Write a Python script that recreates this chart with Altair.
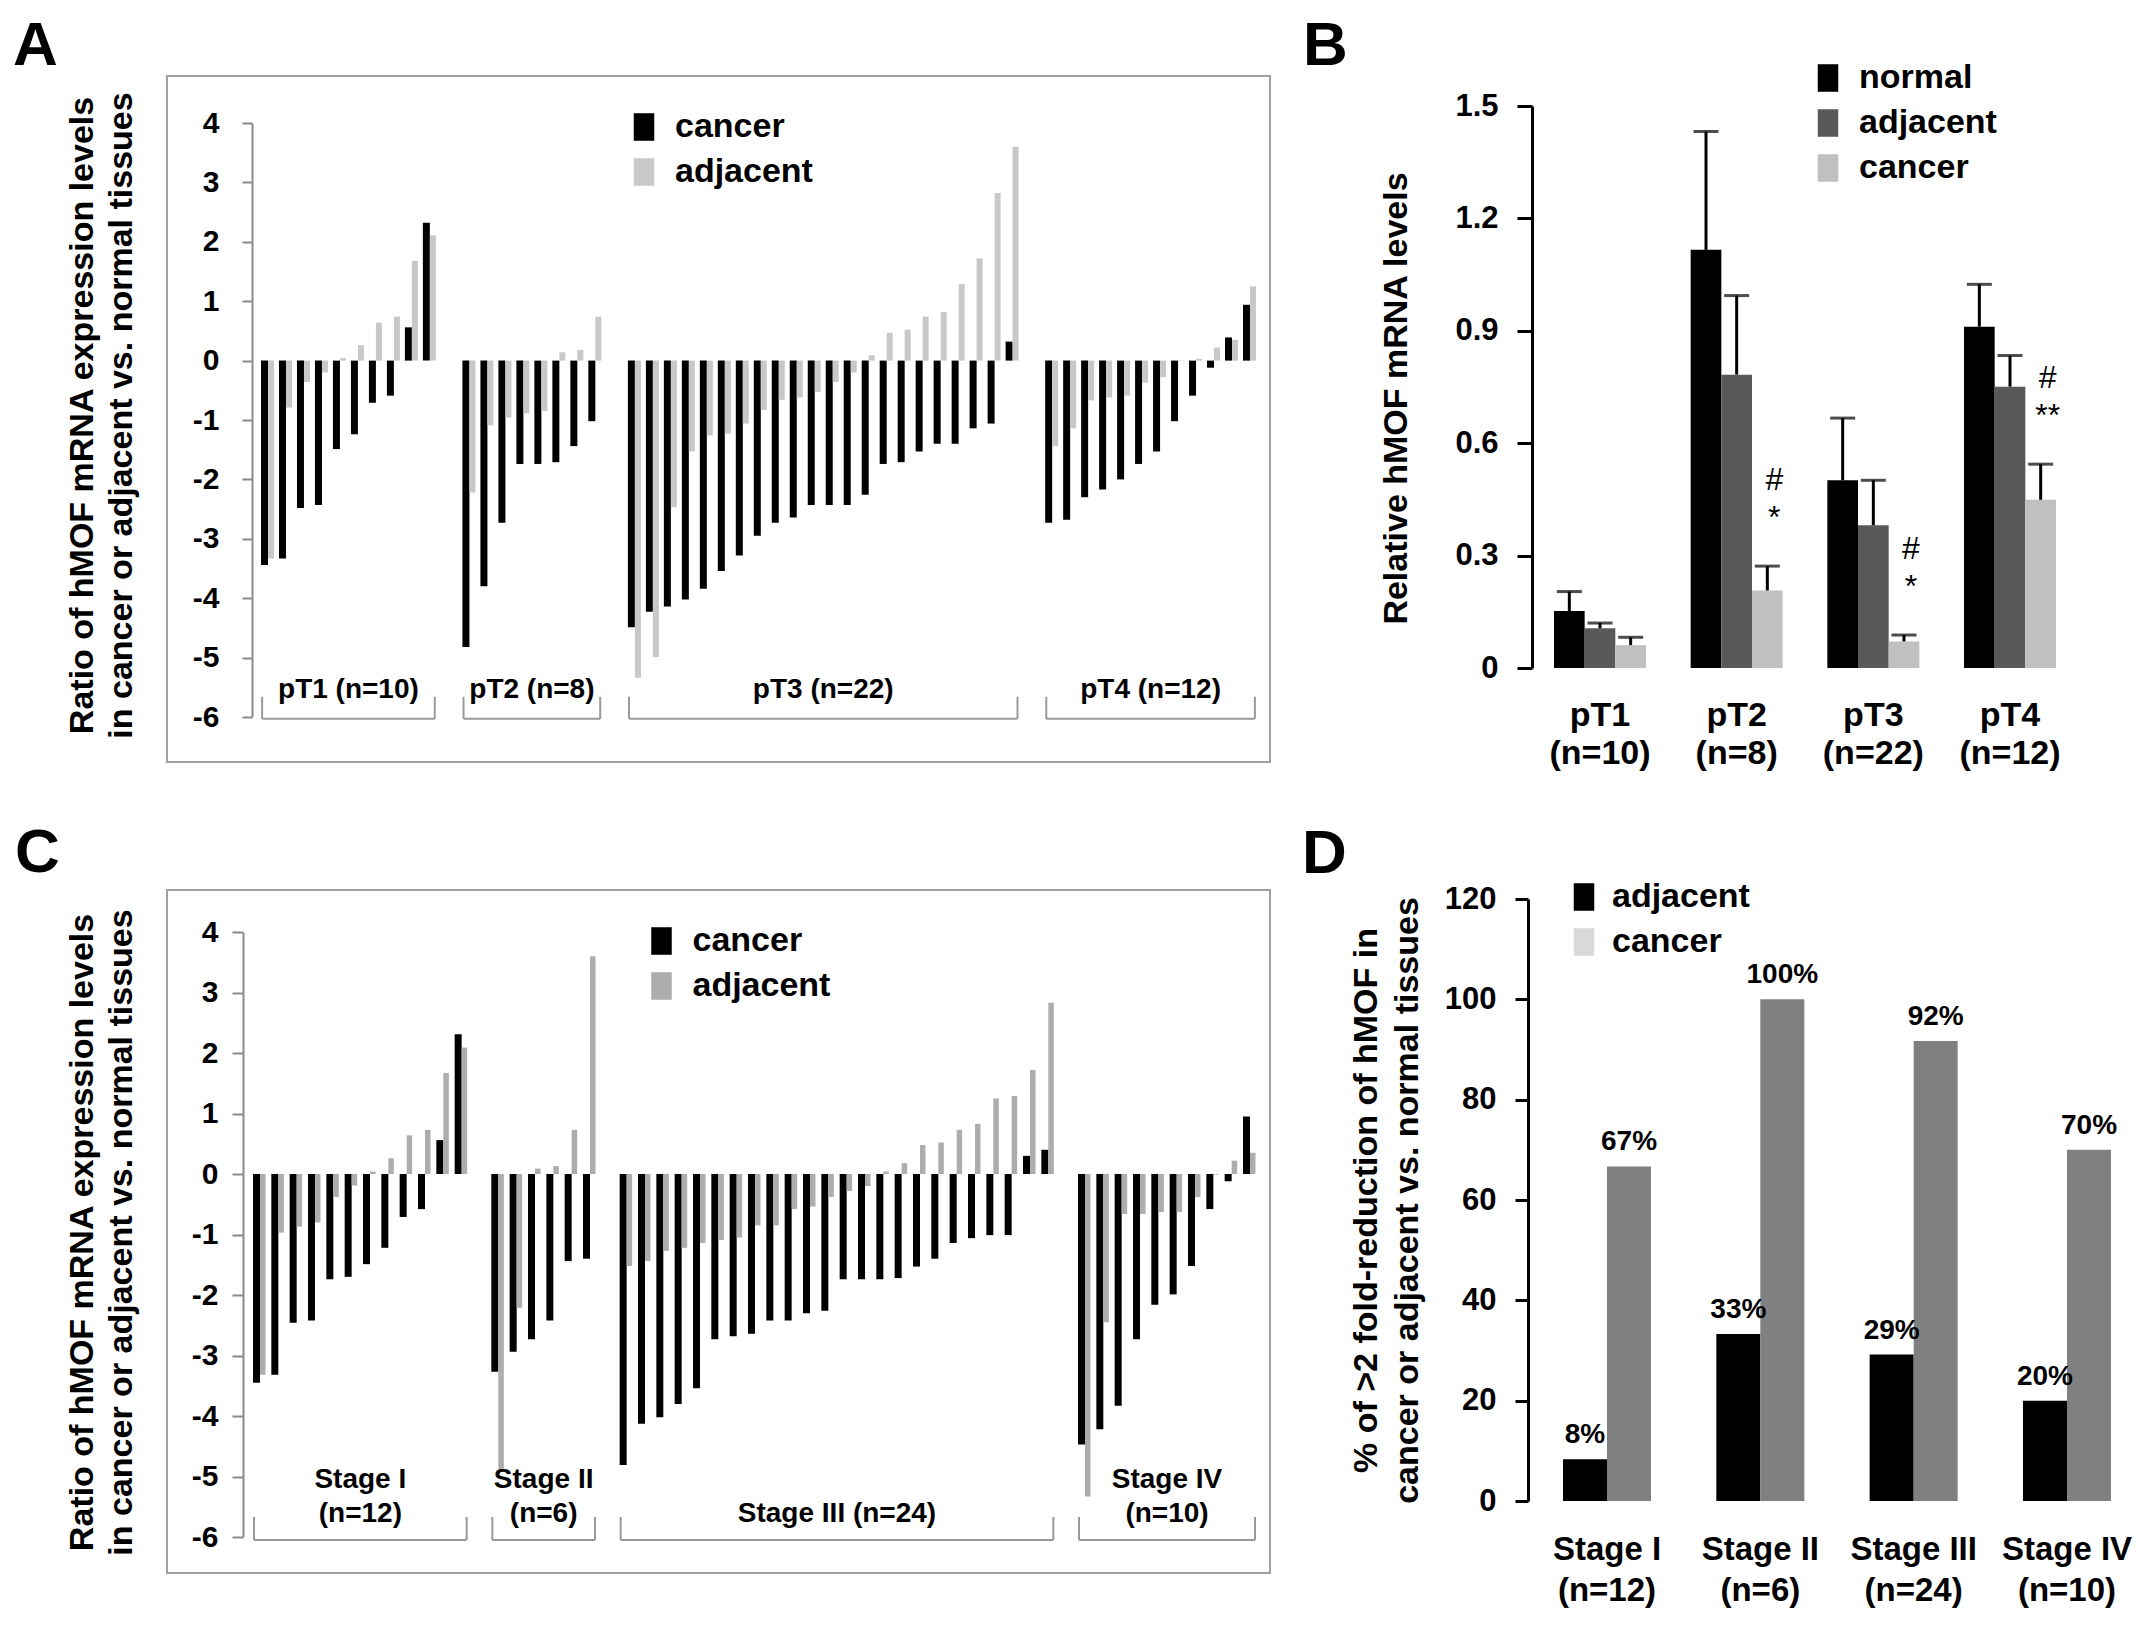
import altair as alt
import pandas as pd

# ---------------- values ----------------
# Panel A: ratio of hMOF mRNA in cancer / adjacent vs normal tissue, grouped by pT stage
A_groups = ["pT1 (n=10)", "pT2 (n=8)", "pT3 (n=22)", "pT4 (n=12)"]
A_pT1_cancer = [-3.44, -3.33, -2.48, -2.43, -1.49, -1.24, -0.71, -0.59, 0.56, 2.32]
A_pT1_adjacent = [-3.33, -0.79, -0.36, -0.20, 0.04, 0.26, 0.64, 0.74, 1.68, 2.11]
A_pT2_cancer = [-4.82, -3.80, -2.73, -1.74, -1.74, -1.71, -1.44, -1.02]
A_pT2_adjacent = [-2.22, -1.09, -0.96, -0.89, -0.85, 0.14, 0.18, 0.74]
A_pT3_cancer = [-4.49, -4.23, -4.14, -4.02, -3.84, -3.54, -3.28, -2.95, -2.73, -2.64, -2.43,
                -2.43, -2.43, -2.26, -1.74, -1.71, -1.53, -1.40, -1.40, -1.14, -1.06, 0.32]
A_pT3_adjacent = [-5.34, -4.99, -2.47, -1.53, -1.26, -1.23, -1.06, -0.83, -0.66, -0.62, -0.53,
                  -0.36, -0.20, 0.09, 0.47, 0.52, 0.74, 0.82, 1.29, 1.72, 2.82, 3.60]
A_pT4_cancer = [-2.73, -2.68, -2.30, -2.17, -2.00, -1.74, -1.53, -1.02, -0.59, -0.12, 0.39, 0.94]
A_pT4_adjacent = [-1.44, -1.14, -0.67, -0.62, -0.59, -0.37, -0.28, -0.01, 0.03, 0.22, 0.35, 1.25]

# Panel C: same ratios grouped by clinical stage
C_groups = ["Stage I\n(n=12)", "Stage II\n(n=6)", "Stage III (n=24)", "Stage IV\n(n=10)"]
C_I_cancer = [-3.45, -3.32, -2.46, -2.42, -1.74, -1.70, -1.49, -1.22, -0.71, -0.58, 0.56, 2.31]
C_I_adjacent = [-3.32, -0.97, -0.87, -0.80, -0.38, -0.19, 0.04, 0.26, 0.64, 0.73, 1.67, 2.09]
C_II_cancer = [-3.27, -2.94, -2.73, -2.42, -1.44, -1.40]
C_II_adjacent = [-4.92, -2.21, 0.09, 0.13, 0.73, 3.60]
C_III_cancer = [-4.81, -4.13, -4.02, -3.80, -3.54, -2.73, -2.68, -2.64, -2.42, -2.42, -2.30, -2.26,
                -1.74, -1.74, -1.74, -1.72, -1.53, -1.40, -1.14, -1.06, -1.01, -1.01, 0.30, 0.40]
C_III_adjacent = [-1.52, -1.44, -1.27, -1.22, -1.14, -1.09, -1.05, -0.85, -0.85, -0.58, -0.54, -0.38,
                  -0.28, -0.20, 0.04, 0.18, 0.48, 0.52, 0.73, 0.83, 1.25, 1.29, 1.72, 2.83]
C_IV_cancer = [-4.47, -4.22, -3.83, -2.73, -2.16, -1.99, -1.52, -0.58, -0.12, 0.95]
C_IV_adjacent = [-5.33, -2.45, -0.66, -0.66, -0.63, -0.63, -0.38, -0.01, 0.22, 0.35]

# Panel B: relative hMOF mRNA levels (mean and upper error)
B_groups = ["pT1", "pT2", "pT3", "pT4"]
B_n = [10, 8, 22, 12]
B_series = ["normal", "adjacent", "cancer"]
B_normal = [0.152, 1.116, 0.501, 0.911]
B_normal_err = [0.052, 0.316, 0.166, 0.113]
B_adjacent = [0.106, 0.783, 0.381, 0.751]
B_adjacent_err = [0.014, 0.211, 0.120, 0.083]
B_cancer = [0.061, 0.207, 0.071, 0.449]
B_cancer_err = [0.021, 0.065, 0.017, 0.095]
B_sig = ["", "#\n*", "#\n*", "#\n**"]

# Panel D: % of >2 fold reduction
D_groups = ["Stage I", "Stage II", "Stage III", "Stage IV"]
D_n = [12, 6, 24, 10]
D_series = ["adjacent", "cancer"]
D_adjacent = [8.3, 33.3, 29.2, 20.0]
D_cancer = [66.7, 100.0, 91.7, 70.0]

# ---------------- layout / style ----------------
FONT = "Liberation Sans, Arial, Helvetica, sans-serif"
M = 8
W, H = 2134, 1609
AX_GRAY = "#8a8a8a"
FRAME = "#a0a0a0"
BR_GRAY = "#9a9a9a"
LEG_SHAPE = "M-0.76,-1.02L0.76,-1.02L0.76,1.02L-0.76,1.02Z"
LEG_SIZE = 729


def P(v):
    return v - M


one = pd.DataFrame({"k": [0]})


def legend_def(x, y):
    return alt.Legend(orient="none", legendX=P(x), legendY=P(y), title=None,
                      symbolType=LEG_SHAPE, symbolSize=LEG_SIZE, symbolStrokeWidth=0,
                      labelFont=FONT, labelFontSize=34, labelFontWeight="bold",
                      labelColor="black", labelOffset=14, rowPadding=11, padding=0)


def waterfall_data(groups, cancer, adjacent, gap):
    rows, br = [], []
    start = 0.0
    last = 0.0
    for g, cl, al in zip(groups, cancer, adjacent):
        for i, (c, a) in enumerate(zip(cl, al)):
            rows.append({"slot": start + i, "series": "cancer", "value": c})
            rows.append({"slot": start + i, "series": "adjacent", "value": a})
        last = start + len(cl) - 1
        parts = g.split("\n")
        br.append({"line1": parts[0] if len(parts) > 1 else "", "line2": parts[-1],
                   "x0": start - 0.3, "x1": last + 0.3, "xm": (start + last) / 2})
        start = last + gap
    return pd.DataFrame(rows), pd.DataFrame(br), last


def waterfall_panel(groups, cancer, adjacent, gap, *, x_px, y_px, axis_x, label_pad, tick_size,
                    title, title_x, title_y, adj_color, adj_w, legend_xy, br_top, br_bot, lab_y):
    df, br, last = waterfall_data(groups, cancer, adjacent, gap)
    px_per_unit = (y_px[0] - y_px[1]) / 10.0
    br["yt"] = br_top
    br["yb"] = br_bot
    br["ylab2"] = lab_y
    br["ylab1"] = lab_y + 34 / px_per_unit
    xs = alt.Scale(domain=[0, last], range=[P(x_px[0]), P(x_px[1])], nice=False)
    ys = alt.Scale(domain=[-6, 4], range=[P(y_px[0]), P(y_px[1])], nice=False)
    ax = alt.Axis(orient="left", offset=-P(axis_x), values=list(range(-6, 5)), grid=False,
                  domainColor=AX_GRAY, domainWidth=2, tickColor=AX_GRAY, tickWidth=2,
                  tickSize=tick_size, labelFont=FONT, labelFontSize=30, labelFontWeight="bold",
                  labelColor="black", labelPadding=label_pad, labelOverlap=False,
                  labelExpr="toString(datum.value)",
                  title=title, titleFont=FONT, titleFontSize=34, titleFontWeight="bold",
                  titleColor="black", titleX=title_x, titleY=title_y, titleAngle=270,
                  titleAlign="center", titleBaseline="middle", titleLineHeight=39)
    color = alt.Color("series:N",
                      scale=alt.Scale(domain=["cancer", "adjacent"], range=["black", adj_color]),
                      legend=legend_def(*legend_xy))
    X = lambda f: alt.X(f, type="quantitative", scale=xs, axis=None)
    Y = lambda f: alt.Y(f, type="quantitative", scale=ys, axis=ax)
    base = alt.Chart(df)
    c_bars = base.transform_filter("datum.series == 'cancer'").mark_bar(width=7, xOffset=-3).encode(
        x=X("slot"), y=Y("value"), color=color)
    a_bars = base.transform_filter("datum.series == 'adjacent'").mark_bar(
        width=adj_w, xOffset=0.5 + adj_w / 2).encode(x=X("slot"), y=Y("value"), color=color)
    b = alt.Chart(br)
    h_rule = b.mark_rule(color=BR_GRAY, strokeWidth=2).encode(x=X("x0"), x2="x1:Q", y=Y("yb"))
    v0 = b.mark_rule(color=BR_GRAY, strokeWidth=2).encode(x=X("x0"), y=Y("yt"), y2="yb:Q")
    v1 = b.mark_rule(color=BR_GRAY, strokeWidth=2).encode(x=X("x1"), y=Y("yt"), y2="yb:Q")
    txt = dict(font=FONT, fontSize=28, fontWeight="bold", baseline="bottom", color="black")
    lab2 = b.mark_text(**txt).encode(x=X("xm"), y=Y("ylab2"), text="line2:N")
    lab1 = b.transform_filter("datum.line1 != ''").mark_text(**txt).encode(
        x=X("xm"), y=Y("ylab1"), text="line1:N")
    return alt.layer(c_bars, a_bars, h_rule, v0, v1, lab2, lab1)


TITLE_AC = ["Ratio of hMOF mRNA expression levels", "in cancer or adjacent vs. normal tissues"]

# ---------------- Panel A ----------------
panelA = waterfall_panel(
    A_groups,
    [A_pT1_cancer, A_pT2_cancer, A_pT3_cancer, A_pT4_cancer],
    [A_pT1_adjacent, A_pT2_adjacent, A_pT3_adjacent, A_pT4_adjacent],
    2.2, x_px=(262.5, 1254.5), y_px=(717, 123), axis_x=252, label_pad=23, tick_size=10,
    title=TITLE_AC, title_x=82 - 252, title_y=P(415), adj_color="#c8c8c8", adj_w=6,
    legend_xy=(627, 110), br_top=-5.66, br_bot=-6.03, lab_y=-5.78)

# ---------------- Panel C ----------------
panelC = waterfall_panel(
    C_groups,
    [C_I_cancer, C_II_cancer, C_III_cancer, C_IV_cancer],
    [C_I_adjacent, C_II_adjacent, C_III_adjacent, C_IV_adjacent],
    2.0, x_px=(254.5, 1254.5), y_px=(1537, 932), axis_x=243, label_pad=14, tick_size=11,
    title=TITLE_AC, title_x=82 - 243, title_y=P(1232), adj_color="#adadad", adj_w=5.5,
    legend_xy=(644.5, 924), br_top=-5.67, br_bot=-6.05, lab_y=-5.85)

# ---------------- Panel B ----------------
B_labels = [f"{g}|(n={n})" for g, n in zip(B_groups, B_n)]
rowsB = []
for i, lab in enumerate(B_labels):
    for s, vals, errs in zip(B_series, [B_normal, B_adjacent, B_cancer],
                             [B_normal_err, B_adjacent_err, B_cancer_err]):
        rowsB.append({"g": lab, "series": s, "value": vals[i], "top": vals[i] + errs[i],
                      "sig": B_sig[i] if s == "cancer" else ""})
dfB = pd.DataFrame(rowsB)

xsB = alt.Scale(domain=B_labels, range=[P(1554), P(2056)], paddingInner=0.327, paddingOuter=0)
xoB = alt.Scale(domain=B_series, paddingInner=0, paddingOuter=0)
ysB = alt.Scale(domain=[0, 1.5], range=[P(668), P(106)], nice=False)
axBx = alt.Axis(orient="bottom", offset=P(668) - H, domain=False, ticks=False, labelAngle=0,
                labelExpr="split(datum.label, '|')", labelFont=FONT, labelFontSize=34,
                labelFontWeight="bold", labelColor="black", labelPadding=30, labelLineHeight=38,
                labelBaseline="top", title=None)
axBy = alt.Axis(orient="left", offset=-P(1532), values=[0, 0.3, 0.6, 0.9, 1.2, 1.5],
                labelExpr="toString(datum.value)",
                grid=False, domainColor="black", domainWidth=3, tickColor="black", tickWidth=3,
                tickSize=15, labelFont=FONT, labelFontSize=31, labelFontWeight="bold",
                labelColor="black", labelPadding=19, labelOverlap=False,
                title="Relative hMOF mRNA levels", titleFont=FONT, titleFontSize=34,
                titleFontWeight="bold", titleColor="black", titleX=1396 - 1532, titleY=P(398),
                titleAngle=270, titleAlign="center", titleBaseline="middle")
XB = alt.X("g:N", scale=xsB, axis=axBx)
XOB = alt.XOffset("series:N", scale=xoB)
YB = lambda f: alt.Y(f, type="quantitative", scale=ysB, axis=axBy)
colorB = alt.Color("series:N", scale=alt.Scale(domain=B_series, range=["black", "#595959", "#c0c0c0"]),
                   legend=legend_def(1811, 61))
baseB = alt.Chart(dfB)
barsB = baseB.mark_bar().encode(x=XB, xOffset=XOB, y=YB("value"), color=colorB)
errB = baseB.mark_rule(color="black", strokeWidth=3).encode(x=XB, xOffset=XOB, y=YB("value"), y2="top:Q")
capB = baseB.mark_tick(orient="horizontal", color="black", thickness=3, size=25).encode(
    x=XB, xOffset=XOB, y=YB("top"))
sigB = baseB.transform_filter("datum.sig != ''").mark_text(
    font=FONT, fontSize=32, color="black", lineBreak="\n", lineHeight=38, baseline="middle",
    dx=7, dy=-86).encode(x=XB, xOffset=XOB, y=YB("top"), text="sig:N")
panelB = alt.layer(barsB, errB, capB, sigB)

# ---------------- Panel D ----------------
D_labels = [f"{g}|(n={n})" for g, n in zip(D_groups, D_n)]
rowsD = []
for i, lab in enumerate(D_labels):
    for s, vals in zip(D_series, [D_adjacent, D_cancer]):
        rowsD.append({"g": lab, "series": s, "value": vals[i], "txt": f"{round(vals[i])}%"})
dfD = pd.DataFrame(rowsD)

xsD = alt.Scale(domain=D_labels, range=[P(1563), P(2111)], paddingInner=0.426, paddingOuter=0)
xoD = alt.Scale(domain=D_series, paddingInner=0, paddingOuter=0)
ysD = alt.Scale(domain=[0, 120], range=[P(1501), P(899)], nice=False)
axDx = alt.Axis(orient="bottom", offset=P(1501) - H, domain=False, ticks=False, labelAngle=0,
                labelExpr="split(datum.label, '|')", labelFont=FONT, labelFontSize=33,
                labelFontWeight="bold", labelColor="black", labelPadding=32, labelLineHeight=41,
                labelBaseline="top", title=None)
axDy = alt.Axis(orient="left", offset=-P(1528), values=[0, 20, 40, 60, 80, 100, 120],
                labelExpr="toString(datum.value)",
                grid=False, domainColor="black", domainWidth=3, tickColor="black", tickWidth=3,
                tickSize=13, labelFont=FONT, labelFontSize=31, labelFontWeight="bold",
                labelColor="black", labelPadding=19, labelOverlap=False,
                title=["% of >2 fold-reduction of hMOF in", "cancer or adjacent vs. normal tissues"],
                titleFont=FONT, titleFontSize=34, titleFontWeight="bold", titleColor="black",
                titleX=1366 - 1528, titleY=P(1200), titleAngle=270, titleAlign="center",
                titleBaseline="middle", titleLineHeight=41)
XD = alt.X("g:N", scale=xsD, axis=axDx)
XOD = alt.XOffset("series:N", scale=xoD)
YD = alt.Y("value:Q", scale=ysD, axis=axDy)
colorD = alt.Color("series:N", scale=alt.Scale(domain=D_series, range=["black", "#808080"]), legend=None)
baseD = alt.Chart(dfD)
barsD = baseD.mark_bar().encode(x=XD, xOffset=XOD, y=YD, color=colorD)
txtD = baseD.mark_text(font=FONT, fontSize=28, fontWeight="bold", color="black", baseline="middle",
                       dy=-24).encode(x=XD, xOffset=XOD, y=YD, text="txt:N")
panelD = alt.layer(barsD, txtD)


# ---------------- decorations: frames, panel letters, legend of D ----------------
def frame(x0, x1, y0, y1):
    return alt.Chart(one).mark_rect(fillOpacity=0, stroke=FRAME, strokeWidth=2).encode(
        x=alt.value(P(x0)), x2=alt.value(P(x1)), y=alt.value(P(y0)), y2=alt.value(P(y1)))


def letter(t, x, y):
    return alt.Chart(one).mark_text(text=t, font=FONT, fontSize=62, fontWeight="bold", align="left",
                                    baseline="alphabetic", color="black").encode(
        x=alt.value(P(x)), y=alt.value(P(y)))


def leg_symbol(x, y, c):
    return alt.Chart(one).mark_point(shape=LEG_SHAPE, size=LEG_SIZE, filled=True, color=c,
                                     opacity=1, strokeWidth=0).encode(
        x=alt.value(P(x)), y=alt.value(P(y)))


def leg_text(x, y, t):
    return alt.Chart(one).mark_text(text=t, font=FONT, fontSize=34, fontWeight="bold", align="left",
                                    baseline="middle", color="black").encode(
        x=alt.value(P(x)), y=alt.value(P(y)))


decor = alt.layer(
    frame(167, 1270, 76, 762), frame(167, 1270, 890, 1573),
    letter("A", 13, 65), letter("B", 1303, 65), letter("C", 15, 872), letter("D", 1302, 873),
    leg_symbol(1584, 897, "black"), leg_symbol(1584, 942, "#d9d9d9"),
    leg_text(1612, 897, D_series[0]), leg_text(1612, 942, D_series[1]),
)

chart = alt.layer(panelA, panelB, panelC, panelD, decor).resolve_scale(
    x="independent", y="independent", color="independent", xOffset="independent"
).properties(
    width=W, height=H, padding=0, autosize=alt.AutoSizeParams(type="none")
).configure_view(stroke=None)

chart.save("out.html", embed_options={"renderer": "svg", "actions": False})
